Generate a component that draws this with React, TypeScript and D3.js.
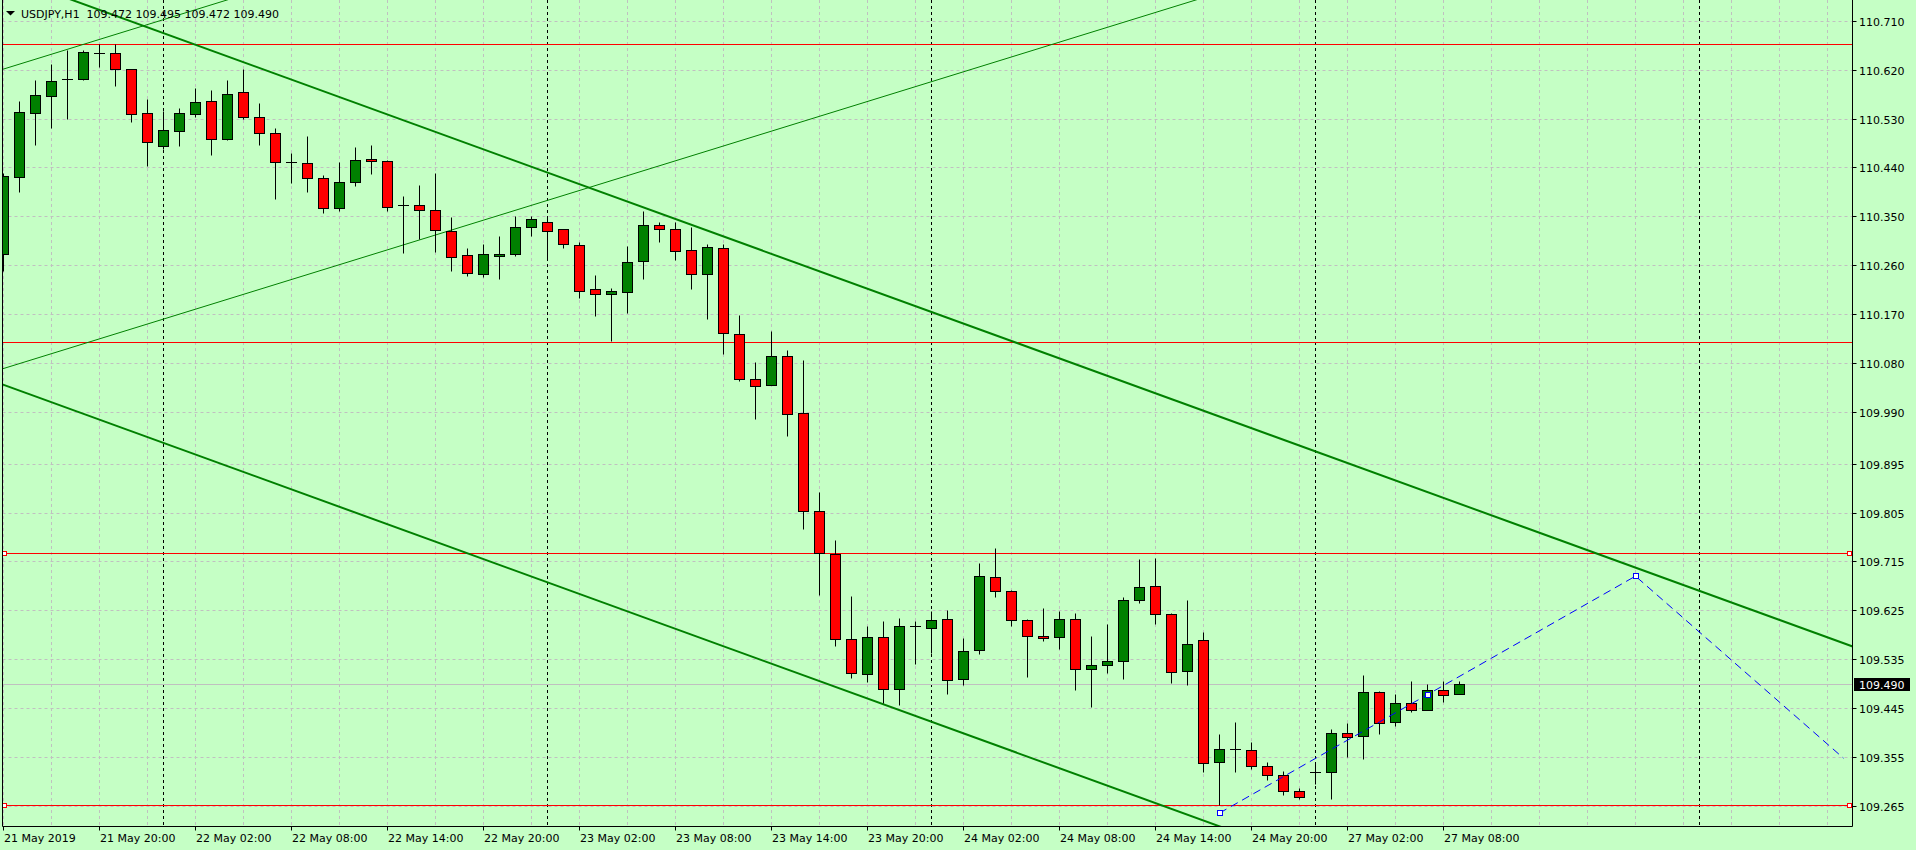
import React from "react";
import * as d3 from "d3";

const W = 1916;
const H = 850;

// ---- data ----
const opens = [
  110.280, 110.422, 110.541, 110.572, 110.602, 110.603, 110.650, 110.650, 110.622, 110.540,
  110.480, 110.507, 110.539, 110.562, 110.492, 110.578, 110.532, 110.503, 110.450, 110.448,
  110.420, 110.365, 110.413, 110.455, 110.452, 110.371, 110.371, 110.361, 110.323, 110.278,
  110.243, 110.277, 110.280, 110.330, 110.339, 110.326, 110.297, 110.216, 110.207, 110.210,
  110.267, 110.334, 110.326, 110.288, 110.243, 110.291, 110.133, 110.050, 110.039, 110.093,
  109.988, 109.807, 109.728, 109.572, 109.507, 109.576, 109.480, 109.596, 109.592, 109.609,
  109.498, 109.552, 109.686, 109.660, 109.607, 109.577, 109.576, 109.609, 109.517, 109.524,
  109.531, 109.644, 109.669, 109.618, 109.513, 109.570, 109.346, 109.369, 109.368, 109.338,
  109.322, 109.292, 109.327, 109.327, 109.399, 109.393, 109.474, 109.419, 109.454, 109.441,
  109.478, 109.472,
];
const highs = [
  110.429, 110.562, 110.600, 110.630, 110.657, 110.657, 110.668, 110.668, 110.622, 110.566,
  110.544, 110.550, 110.586, 110.583, 110.601, 110.622, 110.558, 110.513, 110.467, 110.498,
  110.426, 110.450, 110.478, 110.481, 110.453, 110.388, 110.408, 110.430, 110.349, 110.291,
  110.299, 110.314, 110.351, 110.351, 110.348, 110.326, 110.302, 110.242, 110.218, 110.296,
  110.360, 110.339, 110.339, 110.331, 110.299, 110.299, 110.169, 110.082, 110.139, 110.104,
  110.086, 109.842, 109.755, 109.652, 109.596, 109.606, 109.611, 109.606, 109.623, 109.625,
  109.574, 109.712, 109.739, 109.662, 109.610, 109.629, 109.624, 109.620, 109.578, 109.599,
  109.649, 109.719, 109.721, 109.620, 109.644, 109.585, 109.397, 109.419, 109.382, 109.346,
  109.329, 109.298, 109.342, 109.406, 109.417, 109.506, 109.476, 109.471, 109.495, 109.489,
  109.495, 109.495,
];
const lows = [
  110.250, 110.395, 110.481, 110.513, 110.529, 110.600, 110.625, 110.590, 110.524, 110.443,
  110.474, 110.480, 110.532, 110.462, 110.490, 110.530, 110.481, 110.382, 110.411, 110.394,
  110.357, 110.359, 110.405, 110.427, 110.359, 110.283, 110.309, 110.285, 110.250, 110.241,
  110.239, 110.235, 110.277, 110.314, 110.273, 110.292, 110.200, 110.167, 110.121, 110.173,
  110.234, 110.302, 110.270, 110.217, 110.161, 110.096, 110.047, 109.978, 110.039, 109.946,
  109.775, 109.653, 109.560, 109.501, 109.494, 109.454, 109.451, 109.526, 109.546, 109.472,
  109.487, 109.544, 109.650, 109.596, 109.503, 109.568, 109.553, 109.478, 109.448, 109.509,
  109.498, 109.638, 109.599, 109.491, 109.487, 109.327, 109.266, 109.327, 109.334, 109.313,
  109.285, 109.277, 109.305, 109.277, 109.355, 109.351, 109.397, 109.412, 109.438, 109.441,
  109.456, 109.472,
];
const closes = [
  110.424, 110.542, 110.573, 110.599, 110.603, 110.652, 110.650, 110.622, 110.539, 110.487,
  110.508, 110.540, 110.560, 110.492, 110.576, 110.532, 110.503, 110.450, 110.450, 110.420,
  110.365, 110.413, 110.453, 110.451, 110.367, 110.371, 110.361, 110.324, 110.276, 110.245,
  110.280, 110.281, 110.330, 110.345, 110.323, 110.299, 110.212, 110.208, 110.212, 110.266,
  110.334, 110.326, 110.286, 110.243, 110.293, 110.135, 110.050, 110.037, 110.093, 109.986,
  109.807, 109.730, 109.572, 109.509, 109.576, 109.480, 109.596, 109.596, 109.607, 109.496,
  109.550, 109.688, 109.660, 109.607, 109.577, 109.574, 109.609, 109.518, 109.524, 109.531,
  109.644, 109.668, 109.618, 109.511, 109.564, 109.344, 109.369, 109.369, 109.338, 109.322,
  109.292, 109.281, 109.327, 109.399, 109.392, 109.474, 109.417, 109.454, 109.441, 109.478,
  109.469, 109.490,
];

const priceTickLabels = [
  "110.710", "110.620", "110.530", "110.440", "110.350", "110.260", "110.170", "110.080",
  "109.990", "109.895", "109.805", "109.715", "109.625", "109.535", "109.445", "109.355", "109.265",
];
const timeTickBars = [0, 6, 12, 18, 24, 30, 36, 42, 48, 54, 60, 66, 72, 78, 84, 90];
const timeTickLabels = [
  "21 May 2019", "21 May 20:00", "22 May 02:00", "22 May 08:00", "22 May 14:00", "22 May 20:00",
  "23 May 02:00", "23 May 08:00", "23 May 14:00", "23 May 20:00", "24 May 02:00", "24 May 08:00",
  "24 May 14:00", "24 May 20:00", "27 May 02:00", "27 May 08:00",
];
const daySeparatorBars = [10, 34, 58, 82, 106];
const redLevels = [110.668, 110.118, 109.730, 109.266];
const redLevelsMarked = [109.730, 109.266];
const bidPrice = 109.49;
const bidLabel = "109.490";
const headerText = "USDJPY,H1  109.472 109.495 109.472 109.490";

// trend lines: [bar, price] anchor pairs
const thinLines = [
  [[0, 110.07], [60, 110.616]],
  [[0, 110.621], [60, 111.167]],
];
const thickLines = [
  [[0, 110.794], [100, 109.725]],
  [[0, 110.04], [100, 108.971]],
];
const forecastPoints = [[76, 109.252], [102, 109.688], [115, 109.353]];
const forecastMarkers = [[76, 109.252], [89, 109.469], [102, 109.688]];

// ---- layout ----
const plotLeft = 2.5;
const plotRight = 1852.5;
const plotBottom = 826.5;
const BG = "#c5ffc5";
const GRID = "#c0c0c0";
const BULL = "#008000";
const BEAR = "#ff0000";
const FONT = "'DejaVu Sans', Tahoma, sans-serif";

export default function App() {
  const x = d3.scaleLinear().domain([0, 1]).range([3.5, 19.5]);
  const y = d3.scaleLinear().domain([109.265, 110.71]).range([806, 20.7]);
  const py = (p: number) => Math.round(y(p)) + 0.5;
  const nBars = Math.floor(x.invert(plotRight));

  const gridBars = d3.range(0, nBars + 1, 3);
  const line = d3
    .line<number[]>()
    .x((d) => x(d[0]))
    .y((d) => y(d[1]));

  return (
    <svg
      width={W}
      height={H}
      style={{ position: "absolute", left: 0, top: 0, display: "block" }}
      fontFamily={FONT}
    >
      <defs>
        <clipPath id="plot">
          <rect x={plotLeft} y={0} width={plotRight - plotLeft} height={plotBottom} />
        </clipPath>
      </defs>
      <rect x={0} y={0} width={W} height={H} fill={BG} />

      <g clipPath="url(#plot)">
        {/* grid */}
        {priceTickLabels.map((t) => (
          <line
            key={"hg" + t}
            x1={plotLeft}
            x2={plotRight}
            y1={py(+t)}
            y2={py(+t)}
            stroke={GRID}
            strokeDasharray="3,3"
          />
        ))}
        {gridBars.map((b) => (
          <line
            key={"vg" + b}
            x1={x(b)}
            x2={x(b)}
            y1={0}
            y2={plotBottom}
            stroke={GRID}
            strokeDasharray="3,3"
          />
        ))}
        {daySeparatorBars.map((b) => (
          <line
            key={"ds" + b}
            x1={x(b)}
            x2={x(b)}
            y1={0}
            y2={plotBottom}
            stroke="#000"
            strokeDasharray="3,3"
          />
        ))}

        {/* bid line */}
        <line x1={plotLeft} x2={plotRight} y1={py(bidPrice)} y2={py(bidPrice)} stroke={GRID} />

        {/* horizontal red levels */}
        {redLevels.map((p) => (
          <line key={"rl" + p} x1={plotLeft} x2={plotRight} y1={py(p)} y2={py(p)} stroke={BEAR} />
        ))}

        {/* channel lines */}
        {thinLines.map((l, i) => {
          const a = l[0], b = l[1];
          const s = (b[1] - a[1]) / (b[0] - a[0]);
          const pts = [[-2, a[1] + s * (-2 - a[0])], [nBars + 2, a[1] + s * (nBars + 2 - a[0])]];
          return <path key={"tl" + i} d={line(pts) || ""} stroke={BULL} strokeWidth={1} fill="none" />;
        })}
        {thickLines.map((l, i) => {
          const a = l[0], b = l[1];
          const s = (b[1] - a[1]) / (b[0] - a[0]);
          const pts = [[-2, a[1] + s * (-2 - a[0])], [nBars + 2, a[1] + s * (nBars + 2 - a[0])]];
          return <path key={"tk" + i} d={line(pts) || ""} stroke={BULL} strokeWidth={2} fill="none" />;
        })}

        {/* candles */}
        {opens.map((o, i) => {
          const c = closes[i];
          const cx = x(i);
          const yh = py(highs[i]);
          const yl = py(lows[i]);
          const yo = py(o);
          const yc = py(c);
          const top = Math.min(yo, yc);
          const bot = Math.max(yo, yc);
          const fill = c > o ? BULL : BEAR;
          return (
            <g key={"c" + i}>
              <line x1={cx} x2={cx} y1={yh} y2={yl} stroke="#000" />
              {bot - top < 1 ? (
                <line x1={cx - 5.5} x2={cx + 5.5} y1={top} y2={top} stroke="#000" />
              ) : (
                <rect x={cx - 5} y={top} width={10} height={bot - top} fill={fill} stroke="#000" />
              )}
            </g>
          );
        })}

        {/* forecast dashed line */}
        <path
          d={line(forecastPoints) || ""}
          stroke="#0000ff"
          strokeWidth={1}
          strokeDasharray="8,5"
          fill="none"
        />
        {forecastMarkers.map((m, i) => (
          <rect
            key={"fm" + i}
            x={Math.round(x(m[0])) - 2.5}
            y={Math.round(y(m[1])) - 2.5}
            width={5}
            height={5}
            fill="#fff"
            stroke="#0000ff"
          />
        ))}
      </g>

      {/* red level markers */}
      {redLevelsMarked.map((p) => (
        <g key={"rm" + p}>
          <rect x={2.5} y={py(p) - 2} width={4} height={4} fill="#fff" stroke={BEAR} />
          <rect x={plotRight - 5} y={py(p) - 2} width={4} height={4} fill="#fff" stroke={BEAR} />
        </g>
      ))}

      {/* borders / axes */}
      <line x1={plotLeft} x2={plotLeft} y1={0} y2={plotBottom} stroke="#000" />
      <line x1={plotRight} x2={plotRight} y1={0} y2={plotBottom} stroke="#000" />
      <line x1={plotLeft} x2={plotRight} y1={plotBottom} y2={plotBottom} stroke="#000" />

      {/* price axis */}
      {priceTickLabels.map((t) => (
        <g key={"pt" + t}>
          <line x1={plotRight} x2={plotRight + 4} y1={py(+t)} y2={py(+t)} stroke="#000" />
          <text x={1859} y={py(+t) + 4.5} fontSize={11} fill="#000">
            {t}
          </text>
        </g>
      ))}
      <rect x={1854} y={py(bidPrice) - 6.5} width={56} height={13} fill="#000" />
      <text x={1859} y={py(bidPrice) + 4.5} fontSize={11} fill="#fff">
        {bidLabel}
      </text>

      {/* time axis */}
      {timeTickBars.map((b, i) => (
        <g key={"tt" + b}>
          <line x1={x(b)} x2={x(b)} y1={plotBottom} y2={plotBottom + 4} stroke="#000" />
          <text x={x(b) + 0.5} y={841.5} fontSize={11} fill="#000">
            {timeTickLabels[i]}
          </text>
        </g>
      ))}

      {/* header */}
      <path d="M6,11 L15,11 L10.5,15.5 Z" fill="#000" />
      <text x={21} y={17.5} fontSize={11} fill="#000" style={{ whiteSpace: "pre" }}>
        {headerText}
      </text>
    </svg>
  );
}
